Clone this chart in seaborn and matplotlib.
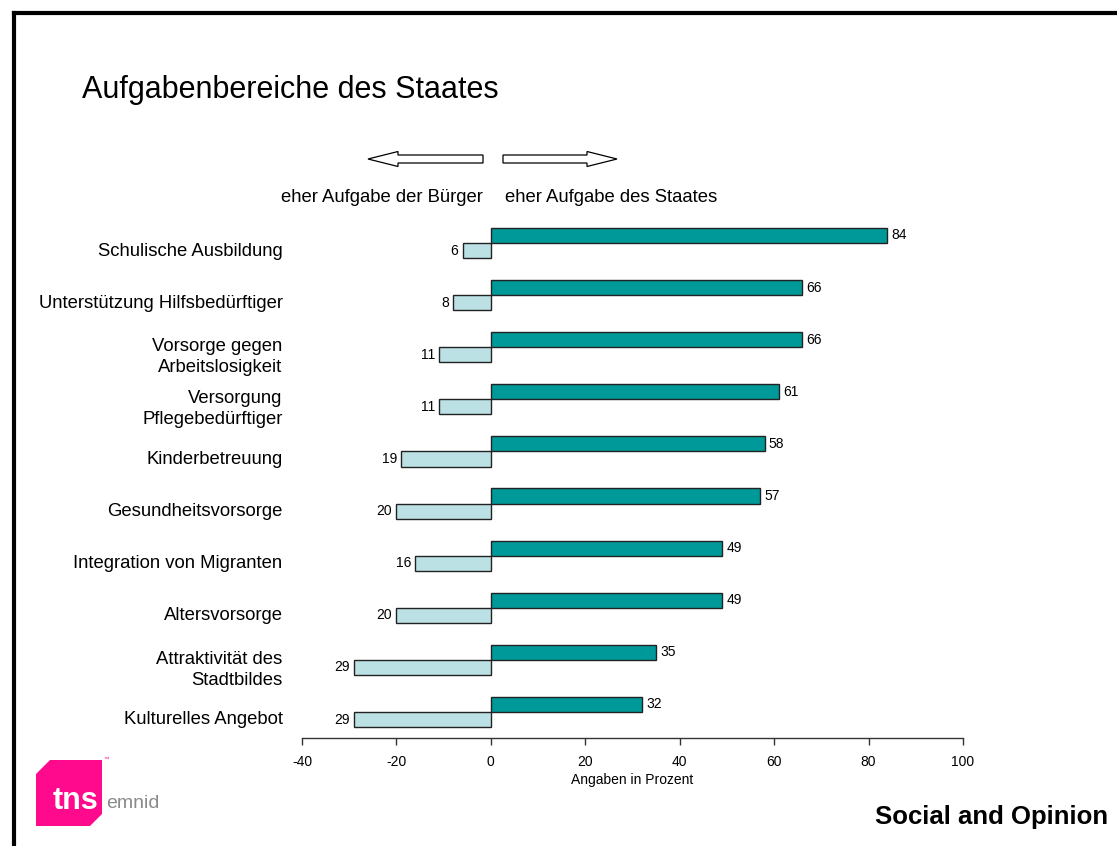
import matplotlib
matplotlib.use("Agg")
import matplotlib.pyplot as plt
import matplotlib.transforms as mtransforms
from matplotlib.patches import FancyArrow, Polygon
from matplotlib.lines import Line2D
import seaborn as sns
import pandas as pd

# Survey data: share of respondents per area of responsibility
categories = [
    "Schulische Ausbildung",
    "Unterstützung Hilfsbedürftiger",
    "Vorsorge gegen\nArbeitslosigkeit",
    "Versorgung\nPflegebedürftiger",
    "Kinderbetreuung",
    "Gesundheitsvorsorge",
    "Integration von Migranten",
    "Altersvorsorge",
    "Attraktivität des\nStadtbildes",
    "Kulturelles Angebot",
]
staat = [84, 66, 66, 61, 58, 57, 49, 49, 35, 32]
buerger = [6, 8, 11, 11, 19, 20, 16, 20, 29, 29]
series = ["eher Aufgabe des Staates", "eher Aufgabe der Bürger"]
xticks = [-40, -20, 0, 20, 40, 60, 80, 100]

df = pd.DataFrame({
    "Bereich": categories * 2,
    "Wert": staat + [-v for v in buerger],
    "Seite": [series[0]] * len(categories) + [series[1]] * len(categories),
})

sns.set_style("white")
plt.rcParams["font.family"] = ["Liberation Sans", "DejaVu Sans"]
plt.rcParams["text.color"] = "black"
plt.rcParams["xtick.color"] = "black"
plt.rcParams["ytick.color"] = "black"
plt.rcParams["axes.labelcolor"] = "black"

W, H = 1117, 846
fig = plt.figure(figsize=(W / 100, H / 100), dpi=100)
ax = fig.add_axes([302 / W, 1 - 738 / H, (963 - 302) / W, (738 - 217) / H])

sns.barplot(
    data=df, y="Bereich", x="Wert", hue="Seite", hue_order=series,
    orient="h", palette=["#009999", "#BBE1E4"], saturation=1,
    edgecolor="#222222", linewidth=1.0, width=0.58, dodge=True,
    legend=False, ax=ax,
)

ax.set_xlim(-40, 100)
ax.set_ylim(len(categories) - 0.5, -0.5)
ax.set_xticks(xticks)
ax.set_xticklabels([str(t) for t in xticks], fontsize=10)
ax.set_xlabel("Angaben in Prozent", fontsize=10, labelpad=3)
ax.set_ylabel("")
for side in ["top", "right", "left"]:
    ax.spines[side].set_visible(False)
ax.spines["bottom"].set_color("#333333")
ax.spines["bottom"].set_linewidth(1.0)
ax.tick_params(axis="x", direction="out", length=5, width=1, color="#333333", pad=7, bottom=True)
ax.tick_params(axis="y", length=0, pad=14, labelsize=13.3)
shift = mtransforms.ScaledTranslation(0, -6 / 100, fig.dpi_scale_trans)
for lbl in ax.get_yticklabels():
    lbl.set_transform(lbl.get_transform() + shift)
    lbl.set_multialignment("right")
    lbl.set_linespacing(1.3)

# Value labels at the end of each bar
ax.bar_label(ax.containers[0], labels=[str(v) for v in staat], padding=3, fontsize=10)
ax.bar_label(ax.containers[1], labels=[str(v) for v in buerger], padding=3, fontsize=10)

# Overlay in pixel coordinates for frame, arrows, title and logo
ov = fig.add_axes([0, 0, 1, 1])
ov.set_xlim(0, W)
ov.set_ylim(H, 0)
ov.axis("off")

ov.add_line(Line2D([13.5, 13.5], [H, 13], color="black", lw=3, solid_capstyle="projecting"))
ov.add_line(Line2D([13.5, W], [13, 13], color="black", lw=3, solid_capstyle="projecting"))

ov.text(82, 90, "Aufgabenbereiche des Staates", fontsize=22, ha="left", va="center")

arrow_kw = dict(width=8, head_width=15, head_length=30, length_includes_head=True,
                fc="white", ec="black", lw=0.9)
ov.add_patch(FancyArrow(483, 159, -115, 0, **arrow_kw))
ov.add_patch(FancyArrow(503, 159, 114, 0, **arrow_kw))

ov.text(483, 198, series[1], fontsize=13.3, ha="right", va="center")
ov.text(505, 198, series[0], fontsize=13.3, ha="left", va="center")

# Logo
ov.add_patch(Polygon([(36, 774), (50, 760), (102, 760), (102, 814), (90, 826), (36, 826)],
                     closed=True, fc="#FF0A8C", ec="none"))
ov.text(53, 801, "tns", color="white", fontsize=22, fontweight="semibold", ha="left", va="center")
ov.text(104, 759, "™", color="#FF0A8C", fontsize=4, ha="left", va="center")
ov.text(106, 803, "emnid", color="#8A8A8A", fontsize=14, ha="left", va="center")

ov.text(1108, 817, "Social and Opinion", fontsize=18.5, fontweight="bold", ha="right", va="center")

fig.savefig("out.png", dpi=100)
